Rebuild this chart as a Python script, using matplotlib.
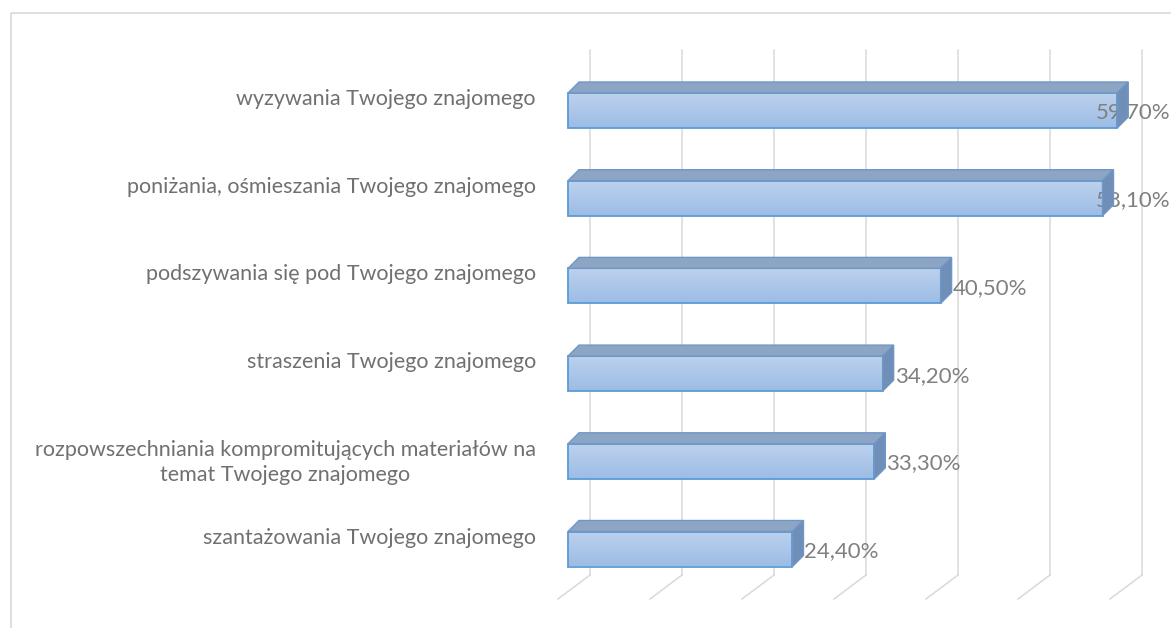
import numpy as np
import matplotlib.pyplot as plt
from matplotlib.patches import Polygon, Rectangle

# dane
categories = [
    "wyzywania Twojego znajomego",
    "poniżania, ośmieszania Twojego znajomego",
    "podszywania się pod Twojego znajomego",
    "straszenia Twojego znajomego",
    "rozpowszechniania kompromitujących materiałów na\ntemat Twojego znajomego",
    "szantażowania Twojego znajomego",
]
values = [59.7, 58.1, 40.5, 34.2, 33.3, 24.4]
value_labels = ["59,70%", "58,10%", "40,50%", "34,20%", "33,30%", "24,40%"]
grid_ticks = [0, 10, 20, 30, 40, 50, 60]

W, H = 1171, 628
X0, PX = 568, 9.2      # px of 0% (front face), px per 1%
Y0, PY = 110.5, 87.7   # px of first row centre, px per row

def dx(p):
    return p / PX

def dy(p):
    return p / PY

def ypx(p):
    return (p - Y0) / PY

plt.rcParams['font.family'] = ['Lato', 'DejaVu Sans']

fig = plt.figure(figsize=(W / 100, H / 100), dpi=100)
ax = fig.add_axes([0, 0, 1, 1])
ax.set_xlim(-X0 / PX, (W - X0) / PX)
ax.set_ylim((H - Y0) / PY, -Y0 / PY)
ax.axis('off')

# ramka wykresu
ax.add_patch(Rectangle((dx(11 - X0), ypx(13)), dx(W + 20), dy(H + 20),
                       fill=False, edgecolor='#d9d9d9', lw=1.2, zorder=0))

# siatka na tylnej scianie + podloga
for t in grid_ticks:
    xb = t + dx(22)
    ax.plot([xb, xb], [ypx(50), ypx(575)], color='#d9d9d9', lw=1.1, zorder=1)
    ax.plot([xb, t + dx(-10)], [ypx(575), ypx(599)], color='#d9d9d9', lw=1.1, zorder=1)

ddx, ddy = dx(11), -dy(11)
bh = dy(35)
grad = np.linspace(0, 1, 64).reshape(-1, 1)
top_c = np.array([0.74, 0.82, 0.93])
bot_c = np.array([0.61, 0.74, 0.90])
img = top_c + (bot_c - top_c) * grad[..., None]
img = img.reshape(64, 1, 3)

for i, (v, lab) in enumerate(zip(values, value_labels)):
    yt, yb = i - bh / 2, i + bh / 2
    # gora
    ax.add_patch(Polygon([(0, yt), (v, yt), (v + ddx, yt + ddy), (ddx, yt + ddy)],
                         closed=True, facecolor='#8da5c4', edgecolor='#7096c6', lw=1, zorder=6))
    # bok
    ax.add_patch(Polygon([(v, yt), (v + ddx, yt + ddy), (v + ddx, yb + ddy), (v, yb)],
                         closed=True, facecolor='#6f8fb9', edgecolor='#7096c6', lw=1, zorder=6))
    # przod z gradientem
    front = ax.barh(i, v, height=bh, left=0, facecolor='none', edgecolor='#5b9bd5',
                    lw=1.3, zorder=4)[0]
    im = ax.imshow(img, extent=(0, v, yb, yt), aspect='auto', zorder=3, interpolation='bilinear')
    im.set_clip_path(front)

    # etykieta wartosci (nad przodem, pod bokiem slupka)
    xr = v + ddx + dx(1)
    if xr + dx(75) > (W - 2 - X0) / PX:
        ax.text((W - 1 - X0) / PX, i + dy(2), lab, ha='right', va='center',
                fontsize=16, color='#808080', zorder=5)
    else:
        ax.text(xr, i + dy(2), lab, ha='left', va='center',
                fontsize=16, color='#808080', zorder=5)

    # etykieta kategorii
    ax.text(dx(536 - X0), yt - dy(4), categories[i], ha='right', va='top',
            multialignment='center', fontsize=15.5, color='#707070', linespacing=1.34)

ax.set_xlim(-X0 / PX, (W - X0) / PX)
ax.set_ylim((H - Y0) / PY, -Y0 / PY)

fig.savefig('out.png', dpi=100, facecolor='white')
